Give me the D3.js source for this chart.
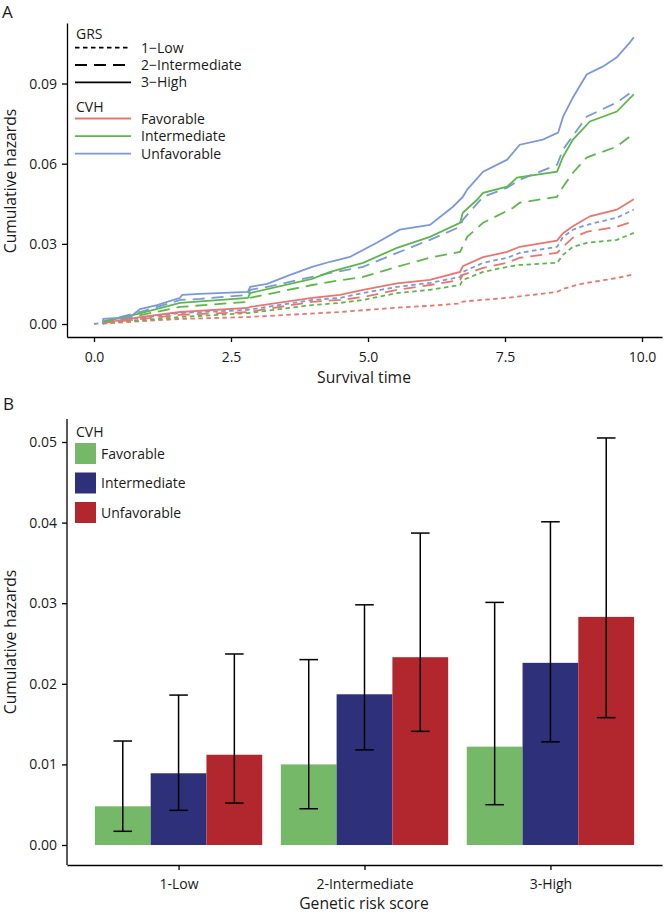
<!DOCTYPE html>
<html>
<head>
<meta charset="utf-8">
<script src="https://cdn.jsdelivr.net/npm/d3@7"></script>
<style>
  html, body { margin: 0; padding: 0; background: #fff; }
  svg { display: block; font-family: "Open Sans", "Noto Sans", sans-serif; }
</style>
</head>
<body>
<svg id="chart" width="664" height="914"></svg>
<script>
// ---------------- Panel A data: cumulative hazards over survival time ----------------
const timeTicks = [0, 2.5, 5, 7.5, 10];
const hazardTicksA = [0, 0.03, 0.06, 0.09];
const grsLevelsA = ["1\u2212Low", "2\u2212Intermediate", "3\u2212High"];
const cvhLevels = ["Favorable", "Intermediate", "Unfavorable"];

// [time, cumulative hazard]
const unfavHigh = [[0.16,0],[0.17,0.0019],[0.66,0.0026],[0.84,0.0056],[1.15,0.0071],[1.57,0.0098],[1.61,0.0109],[1.93,0.0113],[2.81,0.0120],[2.85,0.0139],[3.16,0.0150],[3.58,0.0184],[3.98,0.0214],[4.31,0.0233],[4.67,0.0251],[5.16,0.0304],[5.58,0.0353],[6.13,0.0371],[6.55,0.0439],[6.73,0.0476],[6.81,0.0503],[7.10,0.0570],[7.54,0.0615],[7.77,0.0671],[8.19,0.0690],[8.47,0.0716],[8.56,0.0776],[8.74,0.0848],[8.99,0.0934],[9.29,0.0964],[9.54,0.0998],[9.78,0.1054],[9.85,0.1073]];
const unfavInter = [[0.16,0],[0.17,0.0010],[0.84,0.0045],[1.57,0.0090],[1.93,0.0094],[2.81,0.0109],[2.85,0.0128],[3.16,0.0139],[3.98,0.0176],[4.31,0.0191],[4.91,0.0214],[5.53,0.0266],[6.13,0.0315],[6.68,0.0364],[6.73,0.0390],[7.10,0.0476],[7.54,0.0510],[7.77,0.0540],[8.45,0.0596],[8.56,0.0653],[8.99,0.0776],[9.54,0.0829],[9.82,0.0870]];
const unfavLow = [[0,0],[0.16,0.0004],[0.84,0.0022],[1.57,0.0041],[2.81,0.0053],[3.98,0.0090],[4.49,0.0098],[4.91,0.0116],[5.53,0.0139],[6.13,0.0154],[6.68,0.0176],[6.73,0.0195],[7.10,0.0229],[7.54,0.0248],[7.77,0.0266],[8.45,0.0289],[8.56,0.0326],[8.74,0.0353],[8.99,0.0371],[9.54,0.0398],[9.85,0.0428]];
const interHigh = [[0.16,0],[0.17,0.0008],[0.84,0.0040],[1.57,0.0079],[2.81,0.0098],[2.85,0.0116],[3.98,0.0169],[4.31,0.0195],[4.91,0.0229],[5.53,0.0285],[6.13,0.0326],[6.68,0.0379],[6.73,0.0416],[6.99,0.0465],[7.10,0.0491],[7.54,0.0514],[7.72,0.0548],[8.45,0.0570],[8.56,0.0626],[8.74,0.0690],[9.05,0.0758],[9.54,0.0795],[9.85,0.0859]];
const interInter = [[0.16,0],[0.17,0.0004],[1.57,0.0064],[2.81,0.0083],[2.85,0.0098],[3.98,0.0146],[4.31,0.0158],[4.91,0.0176],[5.53,0.0214],[6.13,0.0248],[6.68,0.0270],[6.81,0.0326],[7.10,0.0379],[7.65,0.0435],[7.77,0.0454],[8.45,0.0476],[8.56,0.0514],[8.74,0.0566],[8.99,0.0623],[9.54,0.0664],[9.82,0.0709]];
const interLow = [[0.16,0],[0.17,0.0004],[1.57,0.0026],[2.81,0.0041],[3.98,0.0071],[4.49,0.0079],[4.91,0.0090],[5.53,0.0116],[6.13,0.0128],[6.68,0.0146],[6.73,0.0165],[7.10,0.0195],[7.54,0.0214],[7.77,0.0221],[8.45,0.0229],[8.56,0.0259],[8.74,0.0289],[8.99,0.0304],[9.54,0.0315],[9.85,0.0341]];
const favHigh = [[0.16,0],[0.17,0.0004],[0.84,0.0026],[1.57,0.0045],[2.81,0.0060],[2.85,0.0064],[3.98,0.0098],[4.49,0.0109],[4.91,0.0128],[5.53,0.0152],[6.13,0.0165],[6.68,0.0195],[6.73,0.0216],[7.10,0.0250],[7.54,0.0270],[7.77,0.0289],[8.45,0.0312],[8.56,0.0340],[8.74,0.0366],[9.05,0.0403],[9.54,0.0428],[9.85,0.0467]];
const favInter = [[0.16,0],[0.17,0.0004],[1.57,0.0034],[2.81,0.0045],[3.98,0.0083],[4.49,0.0090],[4.91,0.0101],[5.53,0.0128],[6.13,0.0146],[6.68,0.0165],[6.73,0.0184],[7.10,0.0210],[7.54,0.0229],[7.77,0.0248],[8.45,0.0266],[8.56,0.0289],[8.74,0.0323],[8.99,0.0345],[9.54,0.0364],[9.82,0.0383]];
const favLow = [[0.16,0],[0.17,0.0002],[1.57,0.0019],[2.81,0.0026],[4.49,0.0045],[5.58,0.0062],[6.13,0.0068],[6.68,0.0077],[6.73,0.0084],[7.54,0.0098],[8.45,0.0120],[8.56,0.0131],[8.81,0.0146],[8.99,0.0154],[9.54,0.0172],[9.85,0.0186]];

// ---------------- Panel B data: bars with confidence intervals ----------------
const grsCategories = ["1-Low", "2-Intermediate", "3-High"];
const hazardTicksB = [0, 0.01, 0.02, 0.03, 0.04, 0.05];
const favorableValues    = [0.0048, 0.0100, 0.0122];
const intermediateValues = [0.0089, 0.0187, 0.0226];
const unfavorableValues  = [0.0112, 0.0233, 0.0283];
const favorableLower     = [0.0017, 0.0045, 0.0050];
const favorableUpper     = [0.0129, 0.0230, 0.0301];
const intermediateLower  = [0.0043, 0.0118, 0.0128];
const intermediateUpper  = [0.0186, 0.0298, 0.0401];
const unfavorableLower   = [0.0052, 0.0141, 0.0158];
const unfavorableUpper   = [0.0237, 0.0387, 0.0505];

// ---------------- styling ----------------
const lineColors = {Favorable: "#E8766F", Intermediate: "#5DB74B", Unfavorable: "#7A98DA"};
const barColors = {Favorable: "#74B868", Intermediate: "#2E3179", Unfavorable: "#B1272D"};
const dashes = {"1\u2212Low": "4.5,3.5", "2\u2212Intermediate": "12,7", "3\u2212High": null};
const textColor = "#1a1a1a";
const tickFont = "14px", titleFont = "15.7px", legendFont = "14px";

const svg = d3.select("#chart");

function styleAxis(a) {
  a.select(".domain").attr("stroke", "#000").attr("stroke-width", 1.3);
  a.selectAll(".tick line").attr("stroke", "#000").attr("stroke-width", 1.3);
  a.selectAll(".tick text").attr("fill", textColor).style("font-size", tickFont).style("font-family", "Open Sans");
}

// ================= PANEL A =================
const xA = d3.scaleLinear().domain([-0.4927, 10.365]).range([67, 662]);
const yA = d3.scaleLinear().domain([-0.00486, 0.11265]).range([337, 23]);

const gA = svg.append("g");
const axL = gA.append("g").attr("transform", "translate(67,0)")
  .call(d3.axisLeft(yA).tickValues(hazardTicksA).tickFormat(d3.format(".2f")).tickSize(5).tickSizeOuter(0));
const axB = gA.append("g").attr("transform", "translate(0,337)")
  .call(d3.axisBottom(xA).tickValues(timeTicks).tickFormat(d3.format(".1f")).tickSize(5).tickSizeOuter(0));
styleAxis(axL); styleAxis(axB);
axL.selectAll(".tick text").attr("x", -10);
axB.selectAll(".tick text").attr("y", 15);

const seriesA = [
  {cvh: "Favorable", grs: grsLevelsA[0], data: favLow},
  {cvh: "Intermediate", grs: grsLevelsA[0], data: interLow},
  {cvh: "Unfavorable", grs: grsLevelsA[0], data: unfavLow},
  {cvh: "Favorable", grs: grsLevelsA[1], data: favInter},
  {cvh: "Intermediate", grs: grsLevelsA[1], data: interInter},
  {cvh: "Unfavorable", grs: grsLevelsA[1], data: unfavInter},
  {cvh: "Favorable", grs: grsLevelsA[2], data: favHigh},
  {cvh: "Intermediate", grs: grsLevelsA[2], data: interHigh},
  {cvh: "Unfavorable", grs: grsLevelsA[2], data: unfavHigh}
];
const lineA = d3.line().x(d => xA(d[0])).y(d => yA(d[1])).curve(d3.curveLinear);
gA.append("g").selectAll("path").data(seriesA).join("path")
  .attr("d", d => lineA(d.data))
  .attr("fill", "none")
  .attr("stroke", d => lineColors[d.cvh])
  .attr("stroke-width", 1.8)
  .attr("stroke-dasharray", d => dashes[d.grs]);

// Axis titles A
gA.append("text").attr("x", 364).attr("y", 383).attr("text-anchor", "middle")
  .attr("fill", textColor).style("font-size", titleFont).text("Survival time");
gA.append("text").attr("transform", "translate(16,181) rotate(-90)").attr("text-anchor", "middle")
  .attr("fill", textColor).style("font-size", titleFont).text("Cumulative hazards");
svg.append("text").attr("x", 2).attr("y", 18).attr("fill", textColor).style("font-size", "17px").text("A");

// Legend A
const legA = gA.append("g");
legA.append("text").attr("x", 76).attr("y", 39).attr("fill", textColor).style("font-size", legendFont).text("GRS");
grsLevelsA.forEach((g, i) => {
  const y = 47.7 + i * 17.3;
  legA.append("line").attr("x1", 75).attr("x2", 131).attr("y1", y).attr("y2", y)
    .attr("stroke", "#000").attr("stroke-width", 1.8).attr("stroke-dasharray", dashes[g]);
  legA.append("text").attr("x", 141).attr("y", y + 5).attr("fill", textColor).style("font-size", legendFont).text(g);
});
legA.append("text").attr("x", 76).attr("y", 112).attr("fill", textColor).style("font-size", legendFont).text("CVH");
cvhLevels.forEach((c, i) => {
  const y = 118.5 + i * 17.6;
  legA.append("line").attr("x1", 75).attr("x2", 131).attr("y1", y).attr("y2", y)
    .attr("stroke", lineColors[c]).attr("stroke-width", 1.8);
  legA.append("text").attr("x", 141).attr("y", y + 5).attr("fill", textColor).style("font-size", legendFont).text(c);
});

// ================= PANEL B =================
const yB = d3.scaleLinear().domain([0, 0.05]).range([845, 442]);
const yTopB = 419, yBotB = 865;
const xB = d3.scaleLinear().domain([0.4, 3.6]).range([67, 662]);
const gB = svg.append("g");

const axLB = gB.append("g").attr("transform", "translate(67,0)")
  .call(d3.axisLeft(yB).tickValues(hazardTicksB).tickFormat(d3.format(".2f")).tickSize(5).tickSizeOuter(0));
axLB.select(".domain").attr("d", `M-0,${yTopB}V${yBotB}`);
const axBB = gB.append("g").attr("transform", `translate(0,${yBotB})`)
  .call(d3.axisBottom(xB).tickValues([1, 2, 3]).tickFormat((d, i) => grsCategories[i]).tickSize(5).tickSizeOuter(0));
styleAxis(axLB); styleAxis(axBB);
axLB.selectAll(".tick text").attr("x", -10);
axBB.selectAll(".tick text").attr("y", 14);

const valueSets = [favorableValues, intermediateValues, unfavorableValues];
const lowerSets = [favorableLower, intermediateLower, unfavorableLower];
const upperSets = [favorableUpper, intermediateUpper, unfavorableUpper];
const barRows = [];
grsCategories.forEach((cat, gi) => {
  cvhLevels.forEach((cvh, ci) => {
    barRows.push({cat, gi, cvh, ci, v: valueSets[ci][gi], lo: lowerSets[ci][gi], hi: upperSets[ci][gi]});
  });
});
const dodge = 0.9, bw = dodge / 3;
const bx0 = d => (d.gi + 1) - dodge / 2 + d.ci * bw;
gB.append("g").selectAll("rect").data(barRows).join("rect")
  .attr("x", d => xB(bx0(d)))
  .attr("width", d => xB(bx0(d) + bw) - xB(bx0(d)))
  .attr("y", d => yB(d.v))
  .attr("height", d => yB(0) - yB(d.v))
  .attr("fill", d => barColors[d.cvh]);

const whisk = 0.05;
const eb = gB.append("g").attr("stroke", "#000").attr("stroke-width", 1.5);
barRows.forEach(d => {
  const c = bx0(d) + bw / 2;
  eb.append("line").attr("x1", xB(c)).attr("x2", xB(c)).attr("y1", yB(d.lo)).attr("y2", yB(d.hi));
  eb.append("line").attr("x1", xB(c - whisk)).attr("x2", xB(c + whisk)).attr("y1", yB(d.hi)).attr("y2", yB(d.hi));
  eb.append("line").attr("x1", xB(c - whisk)).attr("x2", xB(c + whisk)).attr("y1", yB(d.lo)).attr("y2", yB(d.lo));
});

gB.append("text").attr("x", 364).attr("y", 909).attr("text-anchor", "middle")
  .attr("fill", textColor).style("font-size", titleFont).text("Genetic risk score");
gB.append("text").attr("transform", "translate(16,642) rotate(-90)").attr("text-anchor", "middle")
  .attr("fill", textColor).style("font-size", titleFont).text("Cumulative hazards");
svg.append("text").attr("x", 3).attr("y", 410).attr("fill", textColor).style("font-size", "17px").text("B");

// Legend B
const legB = gB.append("g");
legB.append("text").attr("x", 76).attr("y", 437).attr("fill", textColor).style("font-size", legendFont).text("CVH");
cvhLevels.forEach((c, i) => {
  const y = 443 + i * 29.5;
  legB.append("rect").attr("x", 75).attr("y", y).attr("width", 21).attr("height", 21).attr("fill", barColors[c]);
  legB.append("text").attr("x", 101).attr("y", y + 15.5).attr("fill", textColor).style("font-size", legendFont).text(c);
});
</script>
</body>
</html>
